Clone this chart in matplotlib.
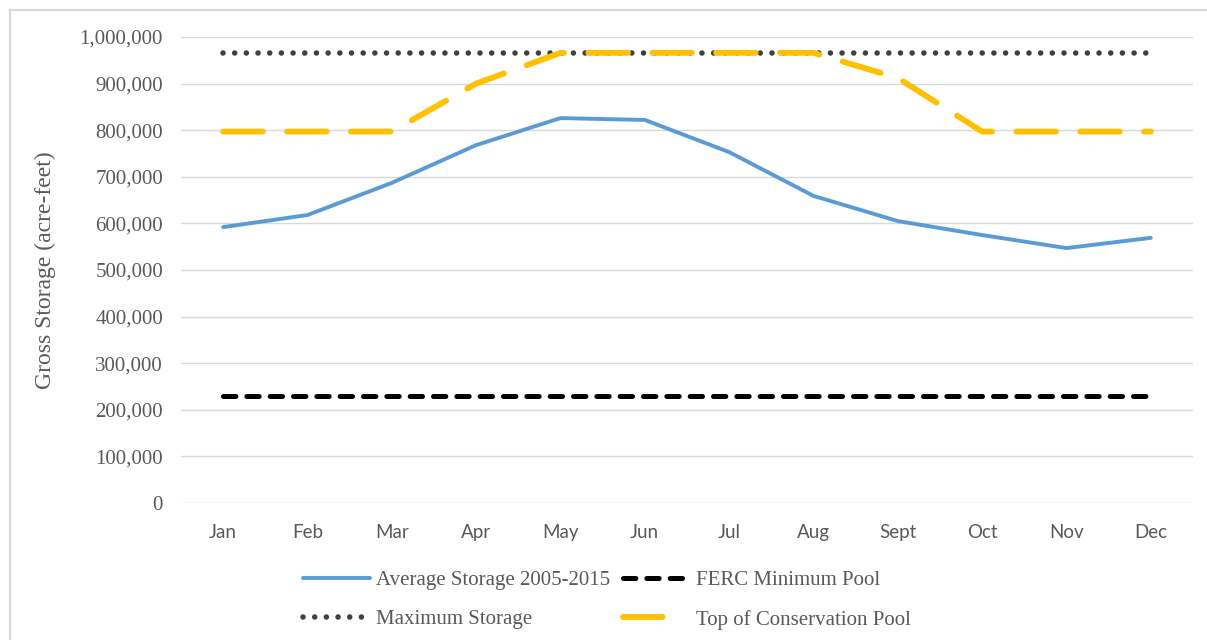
import matplotlib
matplotlib.use("Agg")
from matplotlib import pyplot as plt
from matplotlib.lines import Line2D
from matplotlib.ticker import FuncFormatter

# monthly values
months = ["Jan", "Feb", "Mar", "Apr", "May", "Jun", "Jul", "Aug", "Sept", "Oct", "Nov", "Dec"]
avg_storage = [592000, 618000, 687000, 768000, 826000, 822000, 753000, 659000, 605000, 575000, 547000, 569000]
ferc_min = [230000] * 12
max_storage = [966000] * 12
top_conservation = [797000, 797000, 797000, 900000, 966000, 966000, 966000, 966000, 912000, 797000, 797000, 797000]

plt.rcParams['lines.scale_dashes'] = False
text_gray = "#595959"
serif = ["Liberation Serif", "DejaVu Serif"]

fig = plt.figure(figsize=(12.07, 6.4), dpi=100)
ax = fig.add_axes([181 / 1207, 1 - 503 / 640, 1012 / 1207, 466 / 640])

x = list(range(len(months)))
l_avg, = ax.plot(x, avg_storage, color="#5B9BD5", lw=2.8, solid_capstyle="round", solid_joinstyle="round",
                 label="Average Storage 2005-2015")
l_ferc, = ax.plot(x, ferc_min, color="black", lw=3.6, dash_capstyle="round", dashes=(8.9, 7.9),
                  label="FERC Minimum Pool")
l_max, = ax.plot(x, max_storage, color="#404040", lw=4.0, dash_capstyle="round", dashes=(0.01, 8.4),
                 label="Maximum Storage")
l_top, = ax.plot(x, top_conservation, color="#FFC000", lw=4.2, dash_capstyle="round", dashes=(28.5, 17.5),
                 dash_joinstyle="round", label="Top of Conservation Pool")

ax.set_xlim(-0.5, 11.5)
ax.set_ylim(0, 1000000)
ax.set_yticks(range(0, 1000001, 100000))
ax.yaxis.set_major_formatter(FuncFormatter(lambda v, p: "{:,.0f}".format(v)))
ax.set_xticks(x)
ax.set_xticklabels(months)
ax.grid(axis="y", color="#D9D9D9", lw=1)
ax.set_axisbelow(True)
for s in ax.spines.values():
    s.set_visible(False)
ax.tick_params(axis="both", length=0, colors=text_gray)
ax.tick_params(axis="y", pad=13)
ax.tick_params(axis="x", pad=15)
for t in ax.get_yticklabels():
    t.set_fontfamily(serif)
    t.set_fontsize(15)
for t in ax.get_xticklabels():
    t.set_fontfamily(["Lato", "DejaVu Sans"])
    t.set_fontsize(13.5)

fig.text(45 / 1207, 1 - 270 / 640, "Gross Storage (acre-feet)", rotation=90, ha="center", va="center",
         color=text_gray, fontsize=17, family=serif)

# legend sample for the yellow line shows a single dash only
top_handle = Line2D([], [], color="#FFC000", lw=4.2, solid_capstyle="round")
top_handle.set_dashes((28.5, 60))
top_handle.set_dash_capstyle("round")

leg = fig.legend(handles=[l_avg, l_max, l_ferc, top_handle],
                 labels=[l_avg.get_label(), l_max.get_label(), l_ferc.get_label(), l_top.get_label()],
                 ncol=2, loc="center", bbox_to_anchor=(607 / 1207, 1 - 600 / 640), frameon=False,
                 prop={"family": serif, "size": 15}, handlelength=3.2, handletextpad=0.3,
                 columnspacing=0.6, labelspacing=0.95)
for t in leg.get_texts():
    t.set_color(text_gray)

# light frame lines along the top and left edge
fig.add_artist(Line2D([10 / 1207, 1], [1 - 10 / 640, 1 - 10 / 640], color="#D9D9D9", lw=1.6))
fig.add_artist(Line2D([10 / 1207, 10 / 1207], [0, 1 - 10 / 640], color="#D9D9D9", lw=1.6))

fig.savefig("out.png", dpi=100)
